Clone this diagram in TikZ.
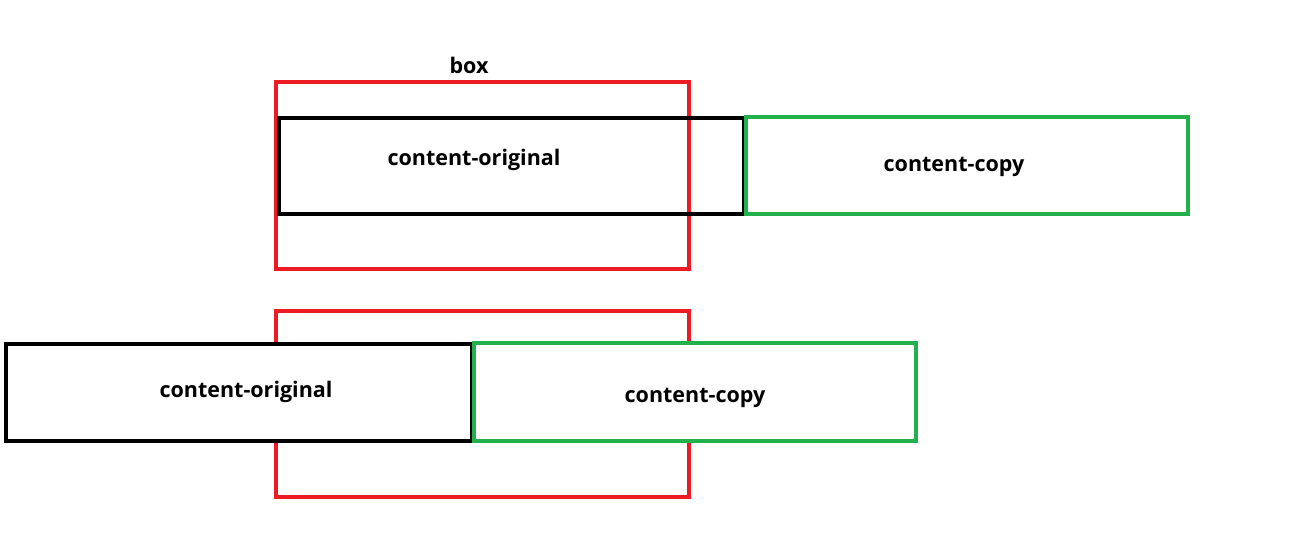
\documentclass[tikz,border=0pt]{standalone}
\usepackage{fontspec}
\setmainfont{Open Sans}[BoldFont={* Bold}]
\definecolor{pred}{HTML}{ED1C24}
\definecolor{pgreen}{HTML}{22B14C}
\begin{document}
\begin{tikzpicture}[x=1pt,y=-1pt,
  frame/.style={draw,line width=4.2pt,inner sep=0pt,outer sep=0pt,fill=white},
  lbl/.style={inner sep=0pt,font=\fontsize{21.5}{24}\selectfont\bfseries}]
\useasboundingbox (0,0) rectangle (1306,555);
% top
\node[frame,draw=pred,fill=none,minimum width=413pt,minimum height=187pt] (boxA) at (482.5,175.5) {};
\node[lbl] (boxlabel) at (469,65) {box};
\node[frame,draw=black,fill=none,minimum width=465pt,minimum height=96pt] (origA) at (511.5,166) {};
\node[frame,draw=pgreen,minimum width=442pt,minimum height=97pt] (copyA) at (967,165.5) {};
\node[lbl] (torigA) at (474,160) {content-original};
\node[lbl] (tcopyA) at (954,167) {content-copy};
% bottom
\node[frame,draw=pred,minimum width=413pt,minimum height=186pt] (boxB) at (482.5,404) {};
\node[frame,draw=black,minimum width=466pt,minimum height=97pt] (origB) at (239,392.5) {};
\node[frame,draw=pgreen,minimum width=442pt,minimum height=98pt] (copyB) at (695,392) {};
\node[lbl] (torigB) at (246,392) {content-original};
\node[lbl] (tcopyB) at (695,398) {content-copy};
\end{tikzpicture}
\end{document}
